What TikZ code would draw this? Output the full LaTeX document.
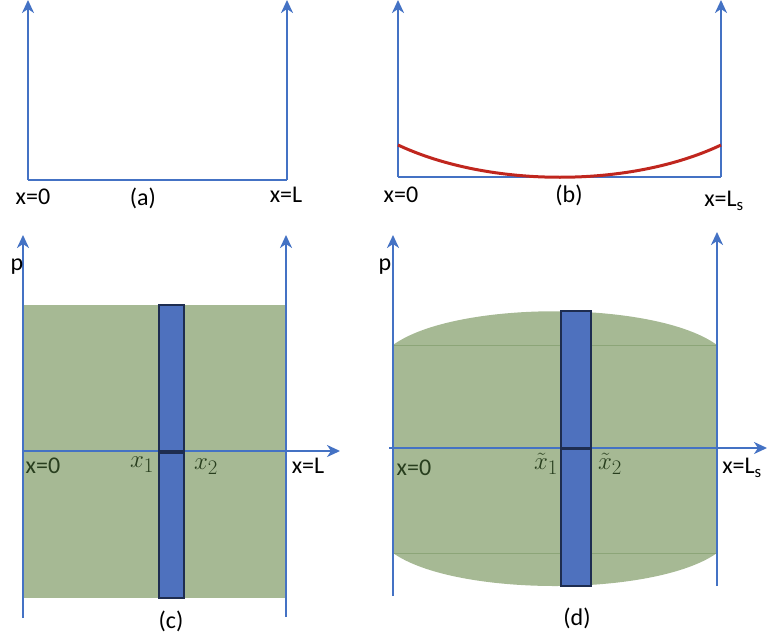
\documentclass[tikz,border=0pt]{standalone}
\usepackage{amsmath,amssymb}
\usepackage{fontspec}
\setmainfont{Carlito}
\usepackage{tikz}
\usetikzlibrary{arrows.meta}
\definecolor{axisblue}{RGB}{68,114,196}
\definecolor{stripblue}{RGB}{78,113,190}
\definecolor{stripedge}{RGB}{30,45,80}
\definecolor{phasegreen}{RGB}{166,185,148}
\definecolor{edgegreen}{RGB}{140,165,120}
\definecolor{labgreen}{RGB}{40,62,30}
\definecolor{curvered}{RGB}{192,38,30}
\tikzset{
  axis/.style={draw=axisblue,line width=2.6pt},
  axisarrow/.style={axis,-{Stealth[length=13pt,width=12pt,inset=4pt]}},
  strip/.style={fill=stripblue,draw=stripedge,line width=1.2pt},
  lab/.style={font=\fontsize{24}{28}\selectfont,inner sep=0pt},
  glab/.style={lab,text=labgreen},
  mlab/.style={glab,font=\fontsize{31}{34}\selectfont}
}
\begin{document}
\begin{tikzpicture}[x=1pt,y=-1pt]
  \useasboundingbox (0,0) rectangle (768,640);
  % (a)
  \coordinate (a0) at (28,180); \coordinate (a0t) at (28,0); \coordinate (aL) at (287,180); \coordinate (aLt) at (287,0);
  \draw[axis] (a0) -- (aL); \draw[axisarrow] (a0) -- (a0t); \draw[axisarrow] (aL) -- (aLt);
  \node[lab] (ax0) at (33,197) {x=0}; \node[lab] (acap) at (143,198) {(a)}; \node[lab] (axL) at (286,195) {x=L};
  % (b)
  \coordinate (b0) at (398,177); \coordinate (b0t) at (398,0); \coordinate (bL) at (721,177); \coordinate (bLt) at (721,0);
  \coordinate (bc0) at (398,145); \coordinate (bcL) at (721,145);
  \draw[axis] (b0) -- (bL); \draw[axisarrow] (b0) -- (b0t); \draw[axisarrow] (bL) -- (bLt);
  \draw[curvered,line width=3pt] (bc0) .. controls (490,188) and (630,188) .. (bcL);
  \node[lab] (bx0) at (401,195) {x=0}; \node[lab] (bcap) at (569,195) {(b)}; \node[lab] (bxL) at (724,201) {x=L\textsubscript{s}};
  % (c)
  \fill[phasegreen] (23,305) rectangle (286,598);
  \coordinate (c0b) at (23,618); \coordinate (c0t) at (23,235); \coordinate (cLb) at (286,617); \coordinate (cLt) at (286,235);
  \coordinate (cxl) at (23,451); \coordinate (cxr) at (340,451);
  \draw[axisarrow] (c0b) -- (c0t); \draw[axisarrow] (cLb) -- (cLt); \draw[axisarrow] (cxl) -- (cxr);
  \draw[strip] (159,305) rectangle (184,451); \draw[strip] (159,453) rectangle (184,598);
  \node[lab] (cp) at (17,267) {p};
  \node[glab] (cx0) at (43,466) {x=0}; \node[mlab] (cx1) at (142,465) {$x_1$}; \node[mlab] (cx2) at (206,467) {$x_2$};
  \node[lab] (cxL) at (308,466) {x=L}; \node[lab] (ccap) at (171,621) {(c)};
  % (d)
  \fill[phasegreen] (393,345) .. controls (455,300) and (655,300) .. (717,345) -- (717,553)
    .. controls (655,597) and (455,597) .. (393,553) -- cycle;
  \draw[edgegreen,line width=0.8pt] (393,345) -- (717,345) (393,553) -- (717,553);
  \coordinate (d0b) at (393,596); \coordinate (d0t) at (393,235); \coordinate (dLb) at (717,586); \coordinate (dLt) at (717,232);
  \coordinate (dxl) at (389,448); \coordinate (dxr) at (767,448);
  \draw[axisarrow] (d0b) -- (d0t); \draw[axisarrow] (dLb) -- (dLt); \draw[axisarrow] (dxl) -- (dxr);
  \draw[strip] (561,311) rectangle (591,448); \draw[strip] (561,449) rectangle (591,586);
  \node[lab] (dp) at (385,267) {p};
  \node[glab] (dx0) at (414,468) {x=0}; \node[mlab] (dx1) at (546,464) {$\tilde{x}_1$}; \node[mlab] (dx2) at (610,464) {$\tilde{x}_2$};
  \node[lab] (dxL) at (742,468) {x=L\textsubscript{s}}; \node[lab] (dcap) at (577,618) {(d)};
\end{tikzpicture}
\end{document}
